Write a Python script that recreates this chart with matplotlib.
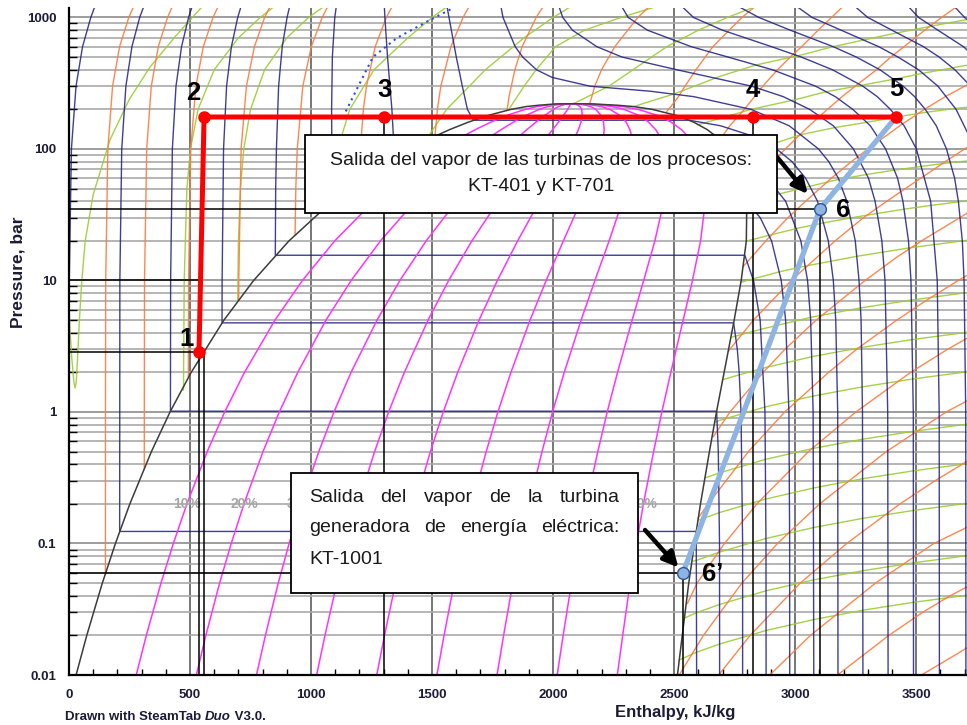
import matplotlib
matplotlib.use("Agg")
import matplotlib.pyplot as plt
from matplotlib.patches import Rectangle

plt.rcParams['font.family'] = ['Liberation Sans', 'DejaVu Sans']

W, H = 967, 725

# ---------------- saturation line of water ----------------
p_sat = [0.01, 0.02, 0.05, 0.1, 0.2, 0.5, 1, 2, 5, 10, 20, 40, 60, 80, 100,
         120, 140, 160, 180, 200, 210, 215, 220, 220.64]
h_liq = [29.3, 73.4, 137.7, 191.8, 251.4, 340.5, 417.4, 504.7, 640.2, 762.8,
         908.8, 1087.3, 1213.3, 1316.6, 1407.6, 1491.3, 1571.1, 1650.1, 1732.0,
         1826.3, 1888.4, 1940.0, 2011.0, 2084.3]
h_vap = [2513.8, 2533.6, 2560.4, 2583.9, 2608.9, 2645.9, 2675.0, 2706.6, 2748.1,
         2777.1, 2798.3, 2800.3, 2784.3, 2758.0, 2724.7, 2684.9, 2637.6, 2580.6,
         2509.1, 2409.7, 2334.0, 2265.0, 2165.0, 2084.3]

quality = [0.1, 0.2, 0.3, 0.4, 0.5, 0.6, 0.7, 0.8, 0.9]
# labels of the quality lines that stay uncovered by the lower note
quality_label_levels = [0.1, 0.2, 0.3, 0.9]
quality_label_text = ['10%', '20%', '30%', '90%']
p_quality_text = 0.2

# ---------------- isotherms (pressure bar, enthalpy kJ/kg), 0..800 C ----------------
t000 = [(0.01, 0.0), (10, 1.0), (100, 10.0), (300, 29.0), (600, 56.0), (1000, 90.0), (1200, 106.0)]
t050 = [(0.01, 2593.0), (0.05, 2592.0), (0.1235, 2591.3), (0.1235, 209.3), (10, 210.1), (100, 217.9),
        (300, 235.0), (600, 260.0), (1000, 292.0), (1200, 308.0)]
t100 = [(0.01, 2688.0), (0.1, 2687.5), (0.5, 2682.5), (1.014, 2675.6), (1.014, 419.1), (10, 419.9),
        (100, 427.0), (300, 442.0), (600, 465.0), (1000, 494.0), (1200, 508.0)]
t150 = [(0.01, 2783.0), (0.1, 2783.0), (1, 2776.4), (2, 2768.8), (3, 2761.0), (4.76, 2745.9),
        (4.76, 632.2), (10, 632.6), (100, 638.5), (300, 651.0), (600, 671.0), (1000, 697.0), (1200, 710.0)]
t200 = [(0.01, 2880.0), (0.1, 2879.5), (1, 2875.3), (5, 2855.4), (10, 2827.9), (15.55, 2792.0),
        (15.55, 852.3), (50, 853.9), (100, 856.9), (300, 866.0), (600, 881.0), (1000, 901.0), (1200, 911.0)]
t250 = [(0.01, 2977.5), (0.1, 2977.3), (1, 2974.3), (5, 2960.7), (10, 2942.6), (20, 2902.5), (30, 2855.8),
        (39.76, 2800.9), (39.76, 1085.7), (100, 1085.8), (200, 1085.0), (500, 1088.0), (1000, 1098.0),
        (1200, 1104.0)]
t300 = [(0.01, 3077.0), (1, 3074.3), (5, 3064.2), (10, 3051.2), (20, 3023.5), (40, 2960.7), (60, 2884.2),
        (80, 2785.0), (85.9, 2749.6), (85.9, 1344.8), (100, 1343.1), (200, 1334.0), (500, 1316.0),
        (1000, 1305.0), (1200, 1303.0)]
t350 = [(0.01, 3177.0), (1, 3175.8), (5, 3167.7), (10, 3157.7), (20, 3137.0), (40, 3092.5), (60, 3043.0),
        (80, 2987.3), (100, 2923.4), (125, 2826.0), (150, 2692.4), (165.3, 2563.6), (165.3, 1670.9),
        (200, 1646.0), (300, 1625.0), (500, 1600.0), (1000, 1570.0), (1200, 1562.0)]
t400 = [(0.01, 3280.0), (1, 3278.2), (5, 3272.4), (10, 3263.9), (20, 3248.4), (40, 3213.6), (60, 3178.3),
        (80, 3139.0), (100, 3096.5), (150, 2975.7), (200, 2818.1), (250, 2580.8), (275, 2400.0),
        (300, 2152.8), (350, 1996.0), (400, 1931.4), (500, 1874.4), (600, 1843.2), (1000, 1793.0),
        (1200, 1785.0)]
t450 = [(0.01, 3384.0), (1, 3382.4), (10, 3371.3), (20, 3358.2), (40, 3330.3), (60, 3302.9), (100, 3240.9),
        (150, 3157.9), (200, 3060.1), (250, 2950.6), (300, 2821.0), (400, 2511.8), (500, 2284.7),
        (600, 2180.2), (800, 2080.0), (1000, 2040.0), (1200, 2025.0)]
t500 = [(0.01, 3489.0), (1, 3488.1), (10, 3478.5), (20, 3468.3), (40, 3445.3), (60, 3423.1), (100, 3373.7),
        (150, 3310.8), (200, 3238.2), (250, 3165.9), (300, 3084.8), (400, 2906.5), (500, 2722.6),
        (600, 2570.3), (800, 2390.0), (1000, 2310.0), (1200, 2285.0)]
t550 = [(0.01, 3596.0), (1, 3595.1), (10, 3587.0), (40, 3559.9), (100, 3500.9), (150, 3450.4), (200, 3393.5),
        (250, 3339.2), (300, 3279.7), (400, 3154.4), (500, 3025.4), (600, 2901.9), (800, 2700.0),
        (1000, 2580.0), (1200, 2535.0)]
t600 = [(0.01, 3705.5), (1, 3704.7), (10, 3697.9), (20, 3690.7), (40, 3674.4), (60, 3658.8), (100, 3625.3),
        (150, 3583.1), (200, 3537.6), (250, 3493.5), (300, 3446.8), (400, 3350.4), (500, 3252.6),
        (600, 3156.8), (800, 2980.0), (1000, 2850.0), (1200, 2770.0)]
t650 = [(0.01, 3815.0), (10, 3810.0), (100, 3745.0), (200, 3665.0), (300, 3590.0), (400, 3510.0),
        (500, 3425.0), (600, 3345.0), (800, 3190.0), (1000, 3070.0), (1200, 3010.0)]
t700 = [(100, 3870.0), (200, 3785.0), (300, 3725.0), (400, 3660.0), (500, 3595.0), (600, 3530.0),
        (800, 3400.0), (1000, 3300.0), (1200, 3250.0)]
t750 = [(300, 3860.0), (400, 3800.0), (600, 3695.0), (800, 3590.0), (1000, 3510.0), (1200, 3470.0)]
t800 = [(600, 3850.0), (800, 3770.0), (1000, 3700.0), (1200, 3660.0)]

# dotted boundary curve in the compressed-liquid region
dotted_p = [175, 318, 501, 699, 957, 1180]
dotted_h = [1132, 1202, 1256, 1355, 1492, 1587]

# ---------------- isentropes (pressure bar, enthalpy kJ/kg), s = 0.5 .. 11 kJ/kgK ----------------
s0_5 = [(0.059, 150.6), (1, 150.7), (10, 151.6), (100, 160.5), (300, 180.0), (600, 209.0), (1000, 247.0), (1200, 266.0)]
s1_0 = [(0.37, 311.0), (1, 311.1), (10, 312.0), (100, 321.0), (300, 340.0), (600, 369.0), (1000, 407.0), (1200, 426.0)]
s1_5 = [(1.83, 493.0), (10, 494.0), (100, 503.0), (300, 524.0), (600, 555.0), (1000, 595.0), (1200, 615.0)]
s2_0 = [(7.1, 701.0), (10, 701.5), (100, 711.0), (300, 733.0), (600, 766.0), (1000, 808.0), (1200, 830.0)]
s2_5 = [(22.3, 934.0), (50, 937.0), (100, 943.0), (300, 966.0), (600, 1001.0), (1000, 1046.0), (1200, 1068.0)]
s3_0 = [(57.3, 1199.0), (100, 1204.0), (200, 1216.0), (300, 1229.0), (600, 1265.0), (1000, 1311.0), (1200, 1334.0)]
s3_5 = [(125, 1512.0), (200, 1522.0), (300, 1536.0), (600, 1578.0), (1000, 1628.0), (1200, 1652.0)]
s4_0 = [(198, 1810.0), (250, 1818.0), (400, 1842.0), (600, 1872.0), (1000, 1930.0), (1200, 1958.0)]
s4_5 = [(218, 2150.0), (250, 2160.0), (300, 2172.0), (400, 2200.0), (600, 2255.0), (1000, 2350.0), (1200, 2395.0)]
s5_0 = [(193, 2470.0), (220, 2495.0), (250, 2518.0), (300, 2545.0), (400, 2590.0), (600, 2660.0),
        (1000, 2780.0), (1200, 2832.0)]
s5_5 = [(118, 2690.0), (150, 2730.0), (200, 2790.0), (250, 2832.0), (300, 2866.0), (400, 2927.0),
        (500, 2980.0), (600, 3027.0), (800, 3095.0), (1000, 3150.0), (1200, 3195.0)]
s6_0 = [(47, 2795.0), (60, 2846.0), (80, 2908.0), (100, 2959.0), (150, 3058.0), (200, 3133.0), (250, 3194.0),
        (300, 3248.0), (400, 3336.0), (500, 3395.0), (600, 3450.0), (800, 3535.0), (1000, 3605.0),
        (1200, 3665.0)]
s6_5 = [(12.8, 2786.0), (20, 2879.0), (30, 2970.0), (40, 3043.0), (60, 3150.0), (80, 3232.0),
        (100, 3301.0), (150, 3432.0), (200, 3534.0), (250, 3620.0), (300, 3700.0), (350, 3775.0)]
s7_0 = [(2.9, 2724.0), (5, 2828.0), (10, 2984.0), (20, 3165.0), (30, 3282.0), (40, 3378.0), (60, 3519.0),
        (80, 3620.0), (100, 3700.0), (120, 3770.0)]
s7_5 = [(0.65, 2662.0), (1, 2731.0), (2, 2868.0), (3, 2958.0), (5, 3087.0), (10, 3289.0), (15, 3419.0),
        (20, 3522.0), (30, 3680.0), (40, 3790.0)]
s8_0 = [(0.155, 2598.0), (0.2, 2641.0), (0.5, 2807.0), (1, 2957.0), (2, 3138.0), (3, 3254.0), (5, 3420.0),
        (7, 3539.0), (10, 3674.0), (13, 3780.0)]
s8_5 = [(0.035, 2555.0), (0.05, 2595.0), (0.1, 2708.0), (0.2, 2842.0), (0.5, 3055.0), (1, 3251.0),
        (2, 3477.0), (3, 3630.0), (4, 3750.0)]
s9_0 = [(0.01, 2521.0), (0.02, 2621.0), (0.05, 2780.0), (0.1, 2927.0), (0.2, 3101.0), (0.5, 3377.0),
        (1, 3624.0), (1.3, 3740.0)]
s9_5 = [(0.01, 2684.0), (0.02, 2814.0), (0.05, 3021.0), (0.1, 3213.0), (0.2, 3433.0), (0.3, 3578.0),
        (0.4, 3690.0), (0.5, 3770.0)]
s10_0 = [(0.01, 2895.0), (0.02, 3063.0), (0.05, 3332.0), (0.1, 3573.0), (0.13, 3700.0), (0.16, 3790.0)]
s10_5 = [(0.01, 3175.0), (0.02, 3387.0), (0.03, 3527.0), (0.04, 3640.0), (0.05, 3740.0)]
s11_0 = [(0.01, 3522.0), (0.015, 3683.0), (0.02, 3790.0)]

# ---------------- isochores (pressure bar, enthalpy kJ/kg), v in m3/kg ----------------
v0_001 = [(25, -8.0), (8, -2.0), (4.2, 4.0), (2.5, 12.0), (1.7, 20.0), (1.52, 25.0), (1.7, 30.0), (2.5, 35.0),
          (5, 43.0), (10, 53.0), (20, 67.0), (45, 100.0), (117, 169.0), (240, 250.0), (420, 335.0),
          (720, 440.0), (1180, 545.0)]
v0_00105 = [(1.47, 473.0), (10, 476.0), (50, 487.0), (100, 502.0), (200, 533.0), (400, 600.0), (700, 700.0),
            (1000, 790.0), (1200, 845.0)]
v0_0011 = [(7.0, 697.0), (20, 700.0), (50, 708.0), (100, 722.0), (200, 750.0), (400, 808.0), (700, 900.0),
           (1000, 990.0), (1200, 1050.0)]
v0_00125 = [(39, 1081.0), (100, 1110.0), (200, 1160.0), (400, 1260.0), (700, 1400.0), (1000, 1500.0), (1200, 1560.0)]
v0_0015 = [(114, 1470.0), (200, 1560.0), (400, 1720.0), (700, 1880.0), (1000, 2000.0), (1200, 2070.0)]
v0_002 = [(197, 1815.0), (300, 1880.0), (400, 1930.0), (600, 2010.0), (800, 2130.0), (1000, 2280.0), (1200, 2420.0)]
v0_003 = [(221, 2084.0), (300, 2230.0), (400, 2330.0), (600, 2470.0), (800, 2600.0), (1000, 2720.0), (1200, 2830.0)]
v0_005 = [(210, 2334.0), (230, 2400.0), (262, 2500.0), (357, 2690.0), (436, 2840.0), (511, 3012.0),
          (600, 3157.0), (750, 3400.0), (900, 3620.0), (1000, 3760.0)]
v0_01 = [(153, 2600.0), (200, 2818.0), (237, 3000.0), (273, 3130.0), (305, 3275.0), (340, 3410.0),
         (380, 3540.0), (430, 3700.0), (450, 3760.0)]
v0_02 = [(92, 2743.0), (108, 2900.0), (128, 3020.0), (145, 3160.0), (160, 3300.0), (175, 3420.0),
         (190, 3540.0), (205, 3680.0), (210, 3740.0)]
v0_05 = [(39.8, 2801.0), (46, 2945.0), (52, 3060.0), (58.7, 3180.0), (64, 3296.0), (69.1, 3412.0),
         (74, 3530.0), (79.1, 3649.0), (82, 3740.0)]
v0_1 = [(19.9, 2798.0), (22, 2890.0), (25.1, 3016.0), (27.7, 3130.0), (30.2, 3243.0), (32.6, 3352.0),
        (35.1, 3461.0), (37.5, 3574.0), (39.9, 3690.0), (41, 3750.0)]
v0_2 = [(9.7, 2776.0), (10.3, 2827.0), (11.7, 2940.0), (12.9, 3045.0), (15.3, 3258.0), (17.7, 3472.0),
        (20.0, 3691.0), (20.6, 3750.0)]
v0_5 = [(3.7, 2736.0), (4.27, 2862.0), (5.26, 3067.0), (6.2, 3274.0), (7.12, 3485.0), (8.05, 3702.0), (8.3, 3760.0)]
v1 = [(1.76, 2700.0), (1.92, 2771.0), (2.16, 2870.0), (2.64, 3072.0), (3.10, 3277.0), (3.56, 3487.0),
      (4.02, 3704.0), (4.15, 3760.0)]
v2 = [(0.83, 2669.0), (0.86, 2685.0), (1.092, 2876.0), (1.323, 3075.0), (1.553, 3279.0), (1.784, 3488.0),
      (2.015, 3704.0), (2.08, 3760.0)]
v5 = [(0.315, 2627.0), (0.344, 2687.0), (0.437, 2879.0), (0.529, 3076.0), (0.621, 3279.0), (0.713, 3489.0),
      (0.806, 3705.0), (0.83, 3760.0)]
v10 = [(0.15, 2599.0), (0.172, 2688.0), (0.218, 2880.0), (0.2645, 3077.0), (0.311, 3280.0), (0.357, 3489.0),
       (0.403, 3705.0), (0.415, 3760.0)]
v20 = [(0.073, 2574.0), (0.0745, 2593.0), (0.0861, 2688.0), (0.1092, 2880.0), (0.1323, 3077.0),
       (0.1553, 3280.0), (0.1784, 3489.0), (0.2015, 3705.0), (0.207, 3760.0)]
v50 = [(0.027, 2541.0), (0.0298, 2593.0), (0.0344, 2688.0), (0.0437, 2880.0), (0.0529, 3077.0),
       (0.0621, 3280.0), (0.0713, 3489.0), (0.0806, 3705.0), (0.083, 3760.0)]
v100 = [(0.013, 2521.0), (0.0149, 2593.0), (0.0172, 2688.0), (0.0218, 2880.0), (0.0264, 3077.0),
        (0.0311, 3280.0), (0.0357, 3489.0), (0.0403, 3705.0), (0.0415, 3760.0)]

# ---------------- plant cycle ----------------
cycle_h = [537, 558, 1302, 2826, 3417]      # states 1..5
cycle_p = [2.85, 175, 175, 175, 175]
cycle_names = ['1', '2', '3', '4', '5']
expansion_h = [3417, 3103, 2537]             # 5 -> 6 -> 6'
expansion_p = [175, 35, 0.06]
expansion_names = ['6', '6\u2019']

x_ticks = [0, 500, 1000, 1500, 2000, 2500, 3000, 3500]
y_ticks = [0.01, 0.1, 1, 10, 100, 1000]
y_tick_text = ['0.01', '0.1', '1', '10', '100', '1000']

isotherms = [t000, t050, t100, t150, t200, t250, t300, t350, t400, t450, t500, t550, t600,
             t650, t700, t750, t800]
isentropes = [s0_5, s1_0, s1_5, s2_0, s2_5, s3_0, s3_5, s4_0, s4_5, s5_0, s5_5, s6_0, s6_5, s7_0,
              s7_5, s8_0, s8_5, s9_0, s9_5, s10_0, s10_5, s11_0]
isochores = [v0_001, v0_00105, v0_0011, v0_00125, v0_0015, v0_002, v0_003, v0_005, v0_01, v0_02,
             v0_05, v0_1, v0_2, v0_5, v1, v2, v5, v10, v20, v50, v100]

# ---------------- figure ----------------
fig = plt.figure(figsize=(W / 100, H / 100), dpi=100)
ax = fig.add_axes([69 / W, 1 - 675 / H, (W - 69) / W, (675 - 8) / H])
ax.set_xlim(0, 3710)
ax.set_yscale('log')
ax.set_ylim(0.01, 1180)

# grid
for x in x_ticks[1:]:
    ax.axvline(x, color='#767676', lw=1.4, zorder=1)
for dec in [0.01, 0.1, 1, 10, 100, 1000]:
    for m in range(1, 10):
        y = dec * m
        if 0.01 < y < 1180:
            ax.axhline(y, color='#8c8c8c' if m == 1 else '#a9a9a9', lw=1.2, zorder=1)


def draw(curve, **kw):
    ps = [c[0] for c in curve]
    hs = [c[1] for c in curve]
    ax.plot(hs, ps, **kw)


for c in isochores:
    draw(c, color='#9acd32', lw=1.0, alpha=0.9, zorder=2)
for c in isentropes:
    draw(c, color='#ff7a3c', lw=1.0, alpha=0.9, zorder=2.1)
for c in isotherms:
    draw(c, color='#1d1d86', lw=1.0, alpha=0.85, zorder=2.2)
ax.plot(dotted_h, dotted_p, color='#2846ff', lw=1.5, ls=(0, (1, 2)), zorder=2.3)

# quality lines inside the dome
for q in quality:
    hq = [hl + q * (hv - hl) for hl, hv in zip(h_liq, h_vap)]
    ax.plot(hq, p_sat, color='#ff33ff', lw=1.1, zorder=2.4)
i02 = p_sat.index(p_quality_text)
for q, txt in zip(quality_label_levels, quality_label_text):
    hq = h_liq[i02] + q * (h_vap[i02] - h_liq[i02])
    ax.text(hq, p_quality_text, txt, ha='center', va='center', fontsize=10, fontweight='bold',
            color='#a6a6a6', zorder=2.5)

# saturation dome
ax.plot(h_liq + h_vap[::-1], p_sat + p_sat[::-1], color='#3c3c3c', lw=1.1, zorder=2.6)

# reference lines projected from the states
h1, h2, h3, h4, h5 = cycle_h
p1 = cycle_p[0]
h6, h6b = expansion_h[1], expansion_h[2]
p6, p6b = expansion_p[1], expansion_p[2]
kline = dict(color='black', lw=1.1, zorder=3)
ax.plot([0, h6], [p6, p6], **kline)
ax.plot([h6, h6], [0.01, p6], **kline)
ax.plot([h4, h4], [0.01, cycle_p[3]], **kline)
ax.plot([h3, h3], [0.01, cycle_p[2]], **kline)
ax.plot([h1, h1], [0.01, p1], **kline)
ax.plot([h2, h2], [0.01, p1], **kline)
ax.plot([0, h1], [p1, p1], **kline)
ax.plot([0, h1], [10, 10], **kline)
ax.plot([0, h6b], [p6b, p6b], **kline)
ax.plot([h6b, h6b], [0.01, p6b], **kline)

# cycle lines and states
ax.plot(cycle_h, cycle_p, color='#ff0000', lw=3.6, zorder=5, solid_capstyle='round')
ax.plot(expansion_h, expansion_p, color='#8db4e2', lw=3.8, zorder=5, solid_capstyle='round')
ax.plot(cycle_h, cycle_p, 'o', color='#ff0000', ms=8, zorder=6)
ax.plot(expansion_h[1:], expansion_p[1:], 'o', mfc='#8db4e2', mec='#2f5597', mew=1.0, ms=8.5, zorder=6)

label_off = [(-12, 13), (-11, 24), (0, 27), (0, 27), (0, 28)]
for h, p, name, off in zip(cycle_h, cycle_p, cycle_names, label_off):
    ax.annotate(name, (h, p), xytext=off, textcoords='offset pixels', ha='center', va='center',
                fontsize=18.5, fontweight='bold', color='black', zorder=7)
for h, p, name, off in zip(expansion_h[1:], expansion_p[1:], expansion_names, [(23, -1), (30, -1)]):
    ax.annotate(name, (h, p), xytext=off, textcoords='offset pixels', ha='center', va='center',
                fontsize=18.5, fontweight='bold', color='black', zorder=7)

# axes styling
for side in ['top', 'right']:
    ax.spines[side].set_visible(False)
for side in ['left', 'bottom']:
    ax.spines[side].set_linewidth(1.6)
    ax.spines[side].set_color('black')
    ax.spines[side].set_zorder(8)
ax.set_xticks(x_ticks)
ax.set_xticklabels([str(v) for v in x_ticks])
ax.set_xticks(range(100, 3701, 100), minor=True)
ax.set_yticks(y_ticks)
ax.set_yticklabels(y_tick_text)
ax.yaxis.set_minor_locator(matplotlib.ticker.LogLocator(base=10, subs=range(2, 10)))
ax.yaxis.set_minor_formatter(matplotlib.ticker.NullFormatter())
ax.tick_params(which='both', direction='in', colors='black')
ax.tick_params(axis='x', which='major', length=0, pad=10, labelsize=9.5)
ax.tick_params(axis='x', which='minor', length=4, width=1)
ax.tick_params(axis='y', which='major', length=0, pad=9, labelsize=9.5)
ax.tick_params(axis='y', which='minor', length=6, width=1)
for lab in ax.get_xticklabels() + ax.get_yticklabels():
    lab.set_fontweight('bold')
    lab.set_color('#1c1c38')

# ---------------- annotation layer in pixel units ----------------
ov = fig.add_axes([0, 0, 1, 1])
ov.set_xlim(0, W)
ov.set_ylim(H, 0)
ov.axis('off')

ov.add_patch(Rectangle((305, 135), 472, 78, facecolor='white', edgecolor='black', lw=1.3, zorder=8))
ov.text(541, 160, 'Salida del vapor de las turbinas de los procesos:', ha='center', va='center',
        fontsize=14, color='#1a1a1a', zorder=9)
ov.text(541, 186, 'KT-401 y KT-701', ha='center', va='center', fontsize=14, color='#1a1a1a', zorder=9)

ov.add_patch(Rectangle((291, 473), 347, 120, facecolor='white', edgecolor='black', lw=1.3, zorder=8))
renderer = fig.canvas.get_renderer()


def justify_line(words, x0, x1, y):
    items = [ov.text(0, y, w, ha='left', va='center', fontsize=14, color='#1a1a1a', zorder=9)
             for w in words]
    widths = [t.get_window_extent(renderer).width for t in items]
    gap = (x1 - x0 - sum(widths)) / (len(words) - 1)
    x = x0
    for t, w in zip(items, widths):
        t.set_x(x)
        x += w + gap


justify_line('Salida del vapor de la turbina'.split(), 309, 620, 497)
justify_line('generadora de energía eléctrica:'.split(), 309, 620, 528)
ov.text(309, 559, 'KT-1001', ha='left', va='center', fontsize=14, color='#1a1a1a', zorder=9)

arrow = dict(arrowstyle='-|>,head_length=0.9,head_width=0.45', color='black', lw=3.2, shrinkA=0)
ax.annotate('', xy=(h6, p6), xytext=(777, H - 157), textcoords='figure pixels',
            arrowprops=dict(arrow, shrinkB=14), zorder=9)
ax.annotate('', xy=(h6b, p6b), xytext=(645, H - 530), textcoords='figure pixels',
            arrowprops=dict(arrow, shrinkB=5), zorder=9)

# axis titles and footer
ov.text(18, 272, 'Pressure, bar', rotation=90, ha='center', va='center', fontsize=12.5,
        fontweight='bold', color='#1c1c38')
ov.text(675, 712, 'Enthalpy, kJ/kg', ha='center', va='center', fontsize=12,
        fontweight='bold', color='#1c1c38')
x = 65
for part, style in [('Drawn with SteamTab ', 'normal'), ('Duo', 'italic'), (' V3.0.', 'normal')]:
    t = ov.text(x, 717, part, ha='left', va='center', fontsize=9.5, fontweight='bold',
                fontstyle=style, color='#1c1c38')
    x += t.get_window_extent(renderer).width

fig.savefig('out.png', dpi=100)
